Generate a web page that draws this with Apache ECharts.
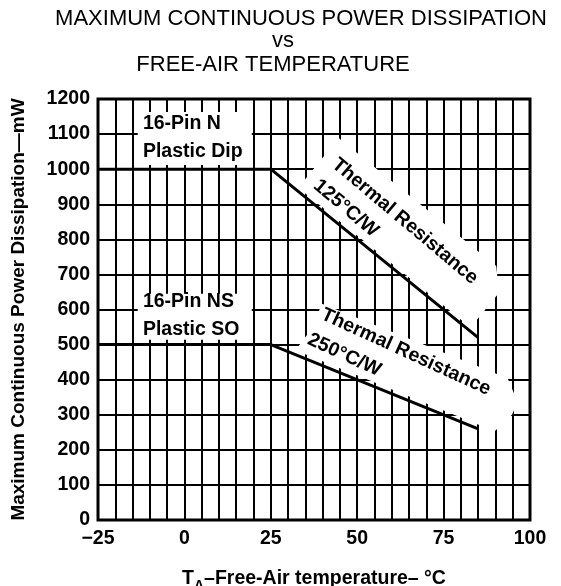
<!DOCTYPE html>
<html>
<head>
<meta charset="utf-8">
<title>Maximum Continuous Power Dissipation vs Free-Air Temperature</title>
<script src="https://cdn.jsdelivr.net/npm/echarts@6/dist/echarts.min.js"></script>
<style>
html,body{margin:0;padding:0;background:#fff;}
#chart_main{width:561px;height:586px;}
</style>
</head>
<body>
<div id="chart_main"></div>
<script type="text/javascript">
// derating curves (temperature in °C, power in mW)
var temp_n   = [-25, 25, 85];
var power_n  = [1000, 1000, 520];
var temp_ns  = [-25, 25, 85];
var power_ns = [500, 500, 260];

var x_ticks = [-25, 0, 25, 50, 75, 100];
var y_ticks = [0, 100, 200, 300, 400, 500, 600, 700, 800, 900, 1000, 1100, 1200];
var x_minor = 5; // a grid line every 5 °C

var FONT = '"Liberation Sans", Arial, Helvetica, sans-serif';

function pairs(xs, ys){
	return xs.map(function(x, i){ return [x, ys[i]]; });
}

var myChart = echarts.init(document.getElementById('chart_main'));

var option = {
	animation: false,
	backgroundColor: '#fff',
	grid: {left: 98, right: 31, top: 99, bottom: 66, show: true, borderColor: '#000', borderWidth: 3,
		containLabel: false, outerBoundsMode: 'none'},
	xAxis: {
		type: 'value',
		min: x_ticks[0],
		max: x_ticks[x_ticks.length - 1],
		interval: x_ticks[1] - x_ticks[0],
		axisLine: {show: false},
		axisTick: {show: false},
		axisLabel: {
			margin: 9, color: '#000', fontFamily: FONT, fontWeight: 'bold', fontSize: 19.5,
			formatter: function(v){ return v < 0 ? '\u2212' + (-v) : '' + v; }
		},
		splitLine: {show: true, lineStyle: {color: '#000', width: 2}},
		minorTick: {show: false, splitNumber: (x_ticks[1] - x_ticks[0]) / x_minor},
		minorSplitLine: {show: true, lineStyle: {color: '#000', width: 2}},
		name: '{t|T}{s|A}{t|\u2013Free-Air temperature\u2013 \u00b0C}',
		nameLocation: 'middle',
		nameGap: 45,
		nameTextStyle: {
			rich: {
				t: {fontFamily: FONT, fontWeight: 'bold', fontSize: 19.5, color: '#000'},
				s: {fontFamily: FONT, fontWeight: 'bold', fontSize: 14, color: '#000', verticalAlign: 'bottom', padding: [14, 0, 0, 0]}
			}
		}
	},
	yAxis: {
		type: 'value',
		min: y_ticks[0],
		max: y_ticks[y_ticks.length - 1],
		interval: y_ticks[1] - y_ticks[0],
		axisLine: {show: false},
		axisTick: {show: false},
		axisLabel: {
			margin: 8, color: '#000', fontFamily: FONT, fontWeight: 'bold', fontSize: 19.5,
			formatter: function(v){ return '' + v; }
		},
		splitLine: {show: true, lineStyle: {color: '#000', width: 2}},
		name: 'Maximum Continuous Power Dissipation\u2014mW',
		nameLocation: 'middle',
		nameRotate: 90,
		nameGap: 70,
		nameTextStyle: {fontFamily: FONT, fontWeight: 'bold', fontSize: 19, color: '#000'}
	},
	series: [
		{type: 'line', name: '16-Pin N', data: pairs(temp_n, power_n), symbol: 'none', z: 10,
			lineStyle: {color: '#000', width: 3}},
		{type: 'line', name: '16-Pin NS', data: pairs(temp_ns, power_ns), symbol: 'none', z: 10,
			lineStyle: {color: '#000', width: 3}}
	]
};
myChart.setOption(option);

// geometry of the sloped part of a curve, in pixels
function slope(xs, ys){
	var a = myChart.convertToPixel({gridIndex: 0}, [xs[1], ys[1]]);
	var b = myChart.convertToPixel({gridIndex: 0}, [xs[2], ys[2]]);
	var dx = b[0] - a[0], dy = b[1] - a[1], len = Math.sqrt(dx * dx + dy * dy);
	return {a: a, ux: dx / len, uy: dy / len, angle: Math.atan2(dy, dx)};
}
// s = distance along the slope, n = distance above it
function at(k, s, n){
	return [k.a[0] + k.ux * s + k.uy * n, k.a[1] + k.uy * s - k.ux * n];
}
function px(x, y){ return myChart.convertToPixel({gridIndex: 0}, [x, y]); }

function whiteBox(x1, y1, x2, y2){
	var p = px(x1, y1), q = px(x2, y2);
	return {type: 'rect', z: 5, silent: true,
		shape: {x: p[0], y: p[1], width: q[0] - p[0], height: q[1] - p[1]},
		style: {fill: '#fff'}};
}
function whitePoly(k, pts){
	return {type: 'polygon', z: 5, silent: true,
		shape: {points: pts.map(function(p){ return at(k, p[0], p[1]); })},
		style: {fill: '#fff'}};
}
function label(pos, str, rot, align){
	return {type: 'text', z: 12, silent: true, x: pos[0], y: pos[1], rotation: rot || 0,
		style: {text: str, font: 'bold 19.5px ' + FONT, fill: '#000',
			textAlign: align || 'center', align: align || 'center',
			textVerticalAlign: 'middle', verticalAlign: 'middle'}};
}
function title(x, y, str){
	return {type: 'text', z: 12, silent: true, x: x, y: y,
		style: {text: str, font: '22px ' + FONT, fill: '#000',
			textAlign: 'center', align: 'center', textVerticalAlign: 'middle', verticalAlign: 'middle'}};
}

var kn = slope(temp_n, power_n);
var kns = slope(temp_ns, power_ns);
var deg = Math.PI / 180;

myChart.setOption({
	graphic: [
		title(301, 19, 'MAXIMUM CONTINUOUS POWER DISSIPATION'),
		title(283, 41, 'vs'),
		title(273, 65, 'FREE-AIR TEMPERATURE'),

		whiteBox(-13.5, 1163, 19.5, 1012),
		whiteBox(-13.5, 645, 19.5, 514),
		label(px(-12, 1130), '16-Pin N', 0, 'left'),
		label(px(-12, 1050), 'Plastic Dip', 0, 'left'),
		label(px(-12, 622), '16-Pin NS', 0, 'left'),
		label(px(-12, 542), 'Plastic SO', 0, 'left'),

		whitePoly(kn, [[33, 3], [33, 67], [236, 67], [255, 48], [255, 3]]),
		whitePoly(kns, [[25, 4], [32, 30], [32, 57], [232, 58], [250, 40], [250, 26], [240, 4]]),
		label(at(kn, 137, 44), 'Thermal Resistance', -kn.angle - 1 * deg),
		label(at(kn, 83, 17), '125\u00b0C/W', -kn.angle - 1 * deg),
		label(at(kns, 128, 44), 'Thermal Resistance', -kns.angle - 2.5 * deg),
		label(at(kns, 72, 18), '250\u00b0C/W', -kns.angle - 2.5 * deg)
	]
});
</script>
</body>
</html>
